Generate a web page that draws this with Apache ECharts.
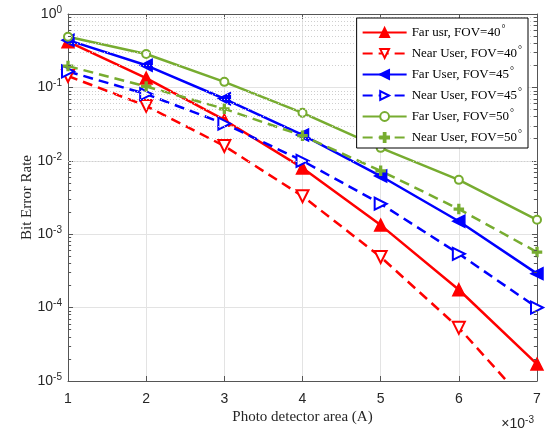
<!DOCTYPE html>
<html>
<head>
<meta charset="utf-8">
<script src="https://cdn.jsdelivr.net/npm/echarts@6/dist/echarts.min.js"></script>
<style>
  html, body { margin: 0; padding: 0; background: #fff; }
  #chart { width: 553px; height: 430px; }
</style>
</head>
<body>
<div id="chart"></div>
<script>
// photo detector area (x 10^-3)
const areaValues = [1, 2, 3, 4, 5, 6, 7];
const seriesNames = [
  "Far usr, FOV=40",
  "Near User, FOV=40",
  "Far User, FOV=45",
  "Near User, FOV=45",
  "Far User, FOV=50",
  "Near User, FOV=50",
];
const farFov40 = [0.42, 0.134, 0.036, 0.0080, 0.00133, 1.75e-4, 1.7e-5];
const nearFov40 = [0.143, 0.056, 0.0159, 0.0033, 4.9e-4, 5.3e-5, 3.5e-6];
const farFov45 = [0.44, 0.20, 0.070, 0.0225, 0.0062, 0.0015, 2.9e-4];
const nearFov45 = [0.165, 0.081, 0.032, 0.0100, 0.0026, 5.4e-4, 1.0e-4];
const farFov50 = [0.49, 0.285, 0.119, 0.045, 0.0150, 0.0055, 0.00157];
const nearFov50 = [0.195, 0.103, 0.051, 0.022, 0.0073, 0.0022, 5.7e-4];

// log decades and the minor steps inside each decade
const decades = [1e-5, 1e-4, 1e-3, 1e-2, 1e-1];
const minorSteps = [2, 3, 4, 5, 6, 7, 8, 9];

const RED = "#ff0000";
const BLUE = "#0000ff";
const GREEN = "#77ac30";
const PLUS = "path://M4,0h2v4h4v2h-4v4h-2v-4h-4v-2h4z";

const chart = echarts.init(document.getElementById("chart"));

function pairs(vals) {
  return areaValues.map((x, i) => [x, vals[i]]);
}

function makeSeries(name, vals, color, dashed, symbol, rotate, size) {
  return {
    name: name,
    type: "line",
    data: pairs(vals),
    symbol: symbol,
    symbolSize: size,
    symbolRotate: rotate,
    clip: true,
    lineStyle: { color: color, width: 2.5, type: dashed ? [10, 6] : "solid" },
    itemStyle: { color: color, borderColor: color, borderWidth: 1.5 },
    z: 3,
  };
}

const minorValues = [];
decades.forEach((d) => minorSteps.forEach((s) => minorValues.push(d * s)));

// minor grid (dotted) + short inner minor ticks on both sides
const minorGrid = minorValues.map((v) => ({ yAxis: v }));
const tickLen = 0.04;
const minorTicks = [];
minorValues.forEach((v) => {
  minorTicks.push([{ coord: [1, v] }, { coord: [1 + tickLen, v] }]);
  minorTicks.push([{ coord: [7 - tickLen, v] }, { coord: [7, v] }]);
});

const axisFont = "Liberation Sans";
const serifFont = "Liberation Serif";

const option = {
  backgroundColor: "#fff",
  animation: false,
  title: {
    text: "×10{e|-3}",
    right: 14,
    top: 410,
    textStyle: {
      fontFamily: axisFont,
      fontSize: 14,
      fontWeight: "normal",
      color: "#262626",
      rich: { e: { fontSize: 10, verticalAlign: "top", color: "#262626", padding: [0, 0, 8, 0] } },
    },
  },
  grid: { left: 68, right: 16, top: 14, bottom: 46 },
  legend: {
    orient: "vertical",
    right: 25,
    top: 18,
    z: 20,
    itemWidth: 44,
    itemHeight: 11,
    itemGap: 6,
    padding: [6, 6, 4, 5],
    borderColor: "#000",
    borderWidth: 1,
    backgroundColor: "#fff",
    data: seriesNames,
    formatter: (name) => name + "{d|°}",
    textStyle: {
      fontFamily: serifFont,
      fontSize: 13,
      color: "#000",
      rich: { d: { fontSize: 10, verticalAlign: "top", padding: [0, 0, 7, 1] } },
    },
  },
  xAxis: [
    {
      type: "value",
      min: 1,
      max: 7,
      interval: 1,
      name: "Photo detector area (A)",
      nameLocation: "middle",
      nameGap: 29,
      nameMoveOverlap: false,
      nameTextStyle: { fontFamily: serifFont, fontSize: 15, color: "#262626" },
      axisLine: { lineStyle: { color: "#555", width: 1 } },
      axisTick: { inside: true, length: 5, lineStyle: { color: "#555" } },
      axisLabel: { fontFamily: axisFont, fontSize: 14, color: "#262626", margin: 11 },
      splitLine: { show: true, lineStyle: { color: "#e3e3e3", width: 1 } },
    },
    {
      type: "value",
      position: "top",
      min: 1,
      max: 7,
      interval: 1,
      axisLine: { show: true, lineStyle: { color: "#555", width: 1 } },
      axisTick: { show: true, inside: true, length: 5, lineStyle: { color: "#555" } },
      axisLabel: { show: false },
      splitLine: { show: false },
    },
  ],
  yAxis: [
    {
      type: "log",
      logBase: 10,
      min: 1e-5,
      max: 1,
      interval: 1,
      name: "Bit Error Rate",
      nameLocation: "middle",
      nameGap: 33,
      nameMoveOverlap: false,
      nameTextStyle: { fontFamily: serifFont, fontSize: 15, color: "#262626" },
      axisLine: { show: true, lineStyle: { color: "#555", width: 1 } },
      axisTick: { show: true, inside: true, length: 5, lineStyle: { color: "#555" } },
      axisLabel: {
        fontFamily: axisFont,
        fontSize: 14,
        color: "#262626",
        margin: 6,
        formatter: (v) => "10{e|" + Math.round(Math.log10(v)) + "}",
        rich: { e: { fontSize: 10, verticalAlign: "top", padding: [0, 0, 8, 0] } },
      },
      splitLine: { show: true, lineStyle: { color: "#e3e3e3", width: 1 } },
    },
    {
      type: "log",
      logBase: 10,
      min: 1e-5,
      max: 1,
      interval: 1,
      position: "right",
      axisLine: { show: true, lineStyle: { color: "#555", width: 1 } },
      axisTick: { show: true, inside: true, length: 5, lineStyle: { color: "#555" } },
      axisLabel: { show: false },
      splitLine: { show: false },
    },
  ],
  series: [
    makeSeries(seriesNames[0], farFov40, RED, false, "triangle", 0, 12),
    makeSeries(seriesNames[1], nearFov40, RED, true, "emptyTriangle", 180, 12),
    makeSeries(seriesNames[2], farFov45, BLUE, false, "triangle", 90, 12),
    makeSeries(seriesNames[3], nearFov45, BLUE, true, "emptyTriangle", -90, 12),
    makeSeries(seriesNames[4], farFov50, GREEN, false, "emptyCircle", 0, 8),
    makeSeries(seriesNames[5], nearFov50, GREEN, true, PLUS, 0, 9),
    {
      name: "minor",
      type: "line",
      data: [],
      silent: true,
      z: 1,
      markLine: {
        silent: true,
        symbol: "none",
        label: { show: false },
        animation: false,
        data: minorGrid,
        lineStyle: { color: "#cfcfcf", width: 1, type: [1, 2] },
      },
    },
    {
      name: "minorTicks",
      type: "line",
      data: [],
      silent: true,
      z: 2,
      markLine: {
        silent: true,
        symbol: "none",
        label: { show: false },
        animation: false,
        data: minorTicks,
        lineStyle: { color: "#555", width: 1, type: "solid" },
      },
    },
  ],
};

chart.setOption(option);
</script>
</body>
</html>
